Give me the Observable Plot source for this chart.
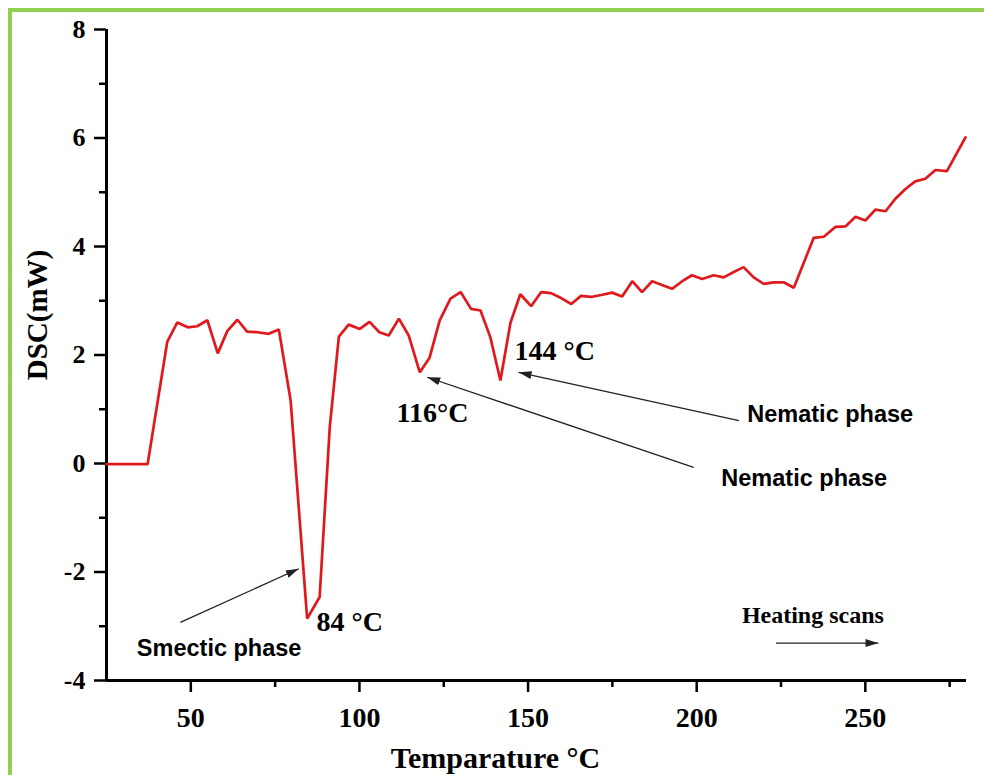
<!DOCTYPE html>
<html>
<head>
<meta charset="utf-8">
<script src="https://cdn.jsdelivr.net/npm/d3@7"></script>
<script src="https://cdn.jsdelivr.net/npm/@observablehq/plot@0.6"></script>
<style>
  html, body { margin: 0; padding: 0; background: #fff; overflow: hidden; }
  #wrap { position: relative; width: 984px; height: 775px; overflow: hidden; background: #fff; }
  #border { position: absolute; left: 8px; top: 8px; width: 2000px; height: 2000px;
            border: 4px solid #92d050; pointer-events: none; }
</style>
</head>
<body>
<div id="wrap"><div id="border"></div></div>
<script>
// ---- data ----
const temps = [25, 37.2, 43.0, 46.0, 49.1, 51.9, 54.9, 58.0, 60.8, 63.8, 66.7, 69.7, 73.1, 76.1,
  79.6, 84.5, 88.2, 91.2, 93.9, 96.8, 100.1, 103.0, 105.9, 108.7, 111.7, 114.6, 117.9, 120.8,
  123.8, 127.0, 130.0, 133.1, 135.9, 138.8, 141.8, 144.8, 147.7, 150.9, 153.9, 156.8, 159.8,
  162.8, 165.7, 168.7, 172.0, 174.9, 177.9, 180.9, 183.8, 186.8, 189.7, 192.7, 195.7, 198.6,
  201.6, 205.0, 208.0, 211.0, 213.9, 216.9, 219.9, 222.8, 225.8, 228.8, 234.7, 237.7, 241.1,
  244.1, 247.1, 250.0, 253.0, 256.0, 258.9, 261.9, 264.8, 267.8, 270.8, 274.2, 279.7];
const dsc = [-0.01, -0.01, 2.24, 2.60, 2.51, 2.53, 2.64, 2.03, 2.44, 2.65, 2.43, 2.42, 2.39, 2.47,
  1.16, -2.86, -2.46, 0.67, 2.34, 2.56, 2.48, 2.61, 2.42, 2.36, 2.67, 2.36, 1.68, 1.95,
  2.64, 3.04, 3.16, 2.85, 2.82, 2.33, 1.53, 2.60, 3.12, 2.90, 3.16, 3.14, 3.05,
  2.94, 3.09, 3.07, 3.11, 3.15, 3.08, 3.36, 3.16, 3.36, 3.29, 3.22, 3.36, 3.47,
  3.40, 3.47, 3.43, 3.53, 3.62, 3.43, 3.31, 3.34, 3.34, 3.24, 4.16, 4.18, 4.36,
  4.37, 4.55, 4.48, 4.68, 4.65, 4.88, 5.06, 5.20, 5.25, 5.41, 5.39, 6.01];

const xDomain = [25, 280];
const yDomain = [-4, 8];
const xMajorTicks = [50, 100, 150, 200, 250];
const xMinorTicks = [75, 125, 175, 225, 275];
const yMajorTicks = [-4, -2, 0, 2, 4, 6, 8];
const yMinorTicks = [-3, -1, 1, 3, 5, 7];

const xTitle = "Temparature °C";
const yTitle = "DSC(mW)";

// peak temperature labels (serif)
const peakText = ["84 °C", "116°C", "144 °C"];
const peakT = [87.3, 111.0, 146.0];
const peakV = [-3.08, 0.76, 1.91];

// phase labels (sans)
const phaseText = ["Smectic phase", "Nematic phase", "Nematic phase"];
const phaseT = [34.0, 215.0, 207.3];
const phaseV = [-3.54, 0.76, -0.41];

const heatText = ["Heating scans"];
const heatT = [213.4];
const heatV = [-2.94];

// arrows: start -> head
const arrowT1 = [46.9, 199.1, 212.5, 223.5];
const arrowV1 = [-2.93, -0.07, 0.79, -3.31];
const arrowT2 = [82.0, 120.1, 147.2, 253.9];
const arrowV2 = [-1.94, 1.59, 1.68, -3.31];

// ---- build tables ----
const series = temps.map((t, i) => ({t, v: dsc[i]}));
const peaks = peakText.map((s, i) => ({s, t: peakT[i], v: peakV[i]}));
const phases = phaseText.map((s, i) => ({s, t: phaseT[i], v: phaseV[i]}));
const heats = heatText.map((s, i) => ({s, t: heatT[i], v: heatV[i]}));
const arrows = arrowT1.map((t1, i) => ({t1, v1: arrowV1[i], t2: arrowT2[i], v2: arrowV2[i]}));

function filledArrow(color) {
  const ns = "http://www.w3.org/2000/svg";
  const m = document.createElementNS(ns, "marker");
  m.setAttribute("viewBox", "-13 -5 13 10");
  m.setAttribute("markerWidth", "13");
  m.setAttribute("markerHeight", "10");
  m.setAttribute("markerUnits", "userSpaceOnUse");
  m.setAttribute("refX", "0");
  m.setAttribute("refY", "0");
  m.setAttribute("orient", "auto");
  const p = document.createElementNS(ns, "path");
  p.setAttribute("d", "M-13,-4L0,0L-13,4Z");
  p.setAttribute("fill", color);
  p.setAttribute("stroke", "none");
  m.appendChild(p);
  return m;
}

const fmt = d => String(d);
const serif = "'Liberation Serif', 'Times New Roman', serif";
const sans = "'Liberation Sans', Arial, sans-serif";

const chart = Plot.plot({
  width: 984,
  height: 775,
  marginLeft: 106,
  marginRight: 18,
  marginTop: 29,
  marginBottom: 95,
  x: {domain: xDomain},
  y: {domain: yDomain},
  style: {fontFamily: serif, background: "transparent", color: "black"},
  marks: [
    Plot.axisX({ticks: xMajorTicks, tickSize: 12, tickPadding: 15, fontSize: 28, fontWeight: "bold",
                strokeWidth: 2.5, tickFormat: fmt, label: null}),
    Plot.axisX({ticks: xMinorTicks, tickSize: 7, strokeWidth: 2.5, tickFormat: () => "", label: null}),
    Plot.axisY({ticks: yMajorTicks, tickSize: 12, tickPadding: 9, fontSize: 26, fontWeight: "bold",
                strokeWidth: 2.5, tickFormat: fmt, label: null}),
    Plot.axisY({ticks: yMinorTicks, tickSize: 7, strokeWidth: 2.5, tickFormat: () => "", label: null}),
    Plot.ruleY([yDomain[0]], {stroke: "black", strokeWidth: 3}),
    Plot.ruleX([xDomain[0]], {stroke: "black", strokeWidth: 3}),
    Plot.line(series, {x: "t", y: "v", stroke: "#e0191c", strokeWidth: 2.7, strokeLinejoin: "miter"}),
    Plot.link(arrows, {x1: "t1", y1: "v1", x2: "t2", y2: "v2", stroke: "#222", strokeWidth: 1.3,
                       markerEnd: filledArrow}),
    Plot.text(peaks, {x: "t", y: "v", text: "s", textAnchor: "start", lineAnchor: "bottom",
                      fontSize: 28, fontWeight: "bold", fontFamily: serif, fill: "black"}),
    Plot.text(phases, {x: "t", y: "v", text: "s", textAnchor: "start", lineAnchor: "bottom",
                       fontSize: 23.5, fontWeight: "bold", fontFamily: sans, fill: "black"}),
    Plot.text(heats, {x: "t", y: "v", text: "s", textAnchor: "start", lineAnchor: "bottom",
                      fontSize: 24, fontWeight: "bold", fontFamily: serif, fill: "black"}),
    Plot.text([xTitle], {frameAnchor: "bottom", dx: -41, dy: 87, textAnchor: "middle", lineAnchor: "bottom",
                         fontSize: 30, fontWeight: "bold", fontFamily: serif, fill: "black"}),
    Plot.text([yTitle], {frameAnchor: "left", rotate: -90, dx: -69, dy: -40,
                         textAnchor: "middle", lineAnchor: "middle",
                         fontSize: 29, fontWeight: "bold", fontFamily: serif, fill: "black"})
  ]
});
document.getElementById("wrap").insertBefore(chart, document.getElementById("border"));
</script>
</body>
</html>
